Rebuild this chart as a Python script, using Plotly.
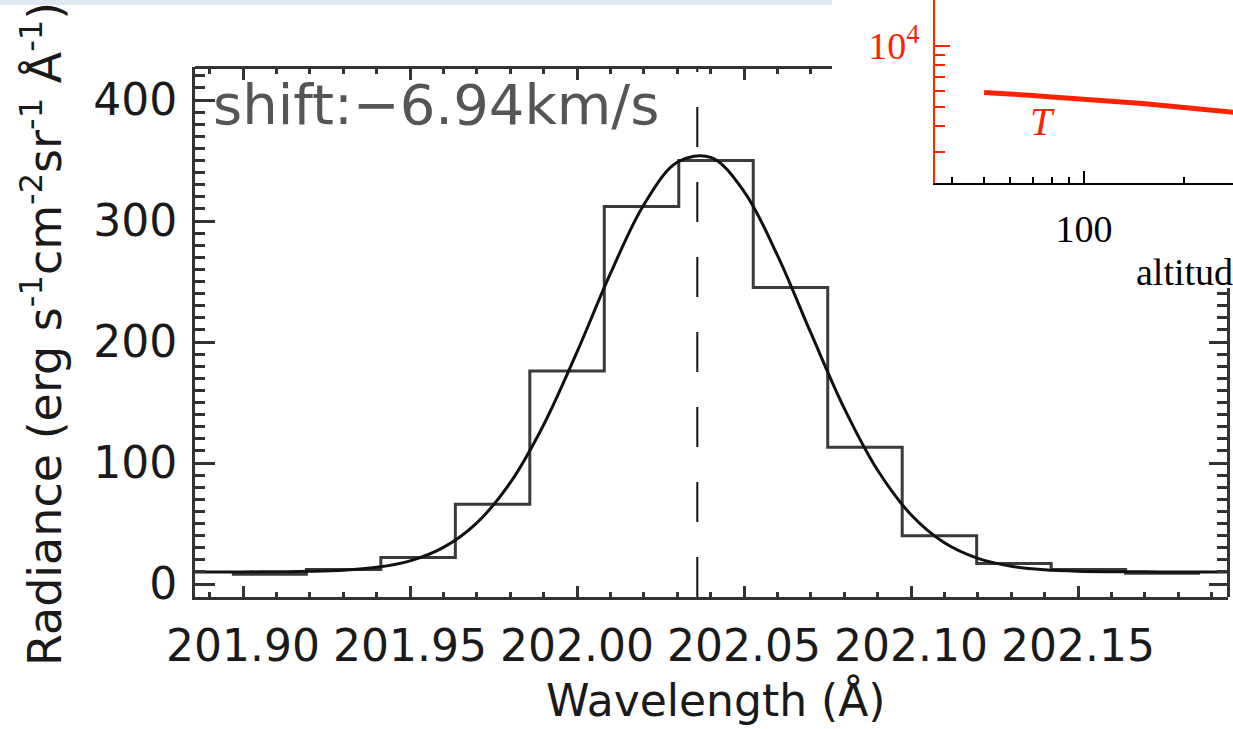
import numpy as np
import plotly.graph_objects as go

W, H = 1233, 729

# ---- main panel: EIS line profile --------------------------------------
wavelength = [201.9078, 201.9301, 201.9524, 201.9747, 201.9970, 202.0193, 202.0416,
              202.0639, 202.0862, 202.1085, 202.1308, 202.1531, 202.1754]
radiance = [8, 12, 22, 66, 176, 312, 350, 245, 113, 40, 17, 12, 9]

fit_wavelength = [201.88, 201.89, 201.90, 201.91, 201.92, 201.93, 201.94, 201.95,
                  201.96, 201.97, 201.98, 201.99, 202.00, 202.01, 202.02, 202.03,
                  202.04, 202.05, 202.06, 202.07, 202.08, 202.09, 202.10, 202.11,
                  202.12, 202.13, 202.14, 202.15, 202.16, 202.17, 202.18, 202.19,
                  202.20]
fit_radiance = [10.0, 10.0, 10.0, 10.2, 10.5, 11.4, 13.8, 19.2, 30.3, 50.6, 83.8,
                131.7, 191.9, 256.7, 313.5, 348.6, 352.6, 324.4, 271.6, 207.5, 145.2,
                94.0, 57.3, 34.1, 21.2, 14.7, 11.8, 10.6, 10.2, 10.1, 10.0, 10.0, 10.0]

line_centre = 202.036
shift_text = "shift:\u22126.94km/s"

x_range = [201.8856, 202.1949]
y_range = [-10.7, 427.3]

# ---- inset: temperature vs altitude -------------------------------------
altitude_km = [50, 60, 70, 80, 100, 120, 150, 200, 250, 280, 320]
temperature_K = [5880, 5800, 5690, 5590, 5460, 5340, 5190, 4960, 4800, 4710, 4600]

RED = "#ff2200"
INK = "#1a1a1a"
AX = "#333333"

# main plot area in pixels
px_left, px_right, px_top, px_bottom = 195, 1228, 67, 597
# where the inset box begins (main frame stops here)
cut_x, cut_y = 832, 288

xd = [px_left / W, px_right / W]
yd = [(H - px_bottom) / H, (H - px_top) / H]
x_per_px = (x_range[1] - x_range[0]) / (px_right - px_left)
y_per_px = (y_range[1] - y_range[0]) / (px_bottom - px_top)

# histogram outline (psym=10 style): steps centred on each sample
wl = np.array(wavelength)
edges = np.concatenate([[wl[0] - (wl[1] - wl[0]) / 2],
                        (wl[:-1] + wl[1:]) / 2,
                        [wl[-1] + (wl[-1] - wl[-2]) / 2]])
step_x = np.repeat(edges, 2)[1:-1]
step_y = np.repeat(np.array(radiance, dtype=float), 2)

fig = go.Figure()
fig.add_trace(go.Scatter(x=step_x, y=step_y, mode="lines",
                         line=dict(color="#3a3a3a", width=3), hoverinfo="skip"))
fig.add_trace(go.Scatter(x=fit_wavelength, y=fit_radiance, mode="lines",
                         line=dict(color="#111111", width=3, shape="spline", smoothing=1.0),
                         hoverinfo="skip"))
fig.add_trace(go.Scatter(x=[line_centre, line_centre], y=[y_range[0], y_range[1]],
                         mode="lines", line=dict(color="#111111", width=2, dash="40px,35px"),
                         hoverinfo="skip"))
# carriers for the partial top / right frame axes
fig.add_trace(go.Scatter(x=[x_range[0]], y=[0], xaxis="x3", yaxis="y", mode="lines",
                         hoverinfo="skip"))
fig.add_trace(go.Scatter(x=[x_range[0]], y=[0], xaxis="x", yaxis="y3", mode="lines",
                         hoverinfo="skip"))
# inset temperature curve
fig.add_trace(go.Scatter(x=altitude_km, y=temperature_K, xaxis="x2", yaxis="y2",
                         mode="lines", line=dict(color=RED, width=5), hoverinfo="skip"))

tickfont = dict(family="DejaVu Sans", size=44, color=INK)
common_x = dict(showline=True, linecolor=AX, linewidth=3, ticks="inside", tickcolor=AX,
                tickwidth=2.5, tick0=201.9, dtick=0.05, showgrid=False, zeroline=False,
                automargin=False,
                minor=dict(ticks="inside", tick0=201.9, dtick=0.01, ticklen=5,
                           tickwidth=2.5, tickcolor=AX, showgrid=False))
common_y = dict(showline=True, linecolor=AX, linewidth=3, ticks="inside", tickcolor=AX,
                tickwidth=2.5, tick0=0, dtick=100, showgrid=False, zeroline=False,
                automargin=False,
                minor=dict(ticks="inside", tick0=0, dtick=10, ticklen=10,
                           tickwidth=2.5, tickcolor=AX, showgrid=False))

x3_dom = [xd[0], cut_x / W]
x3_range = [x_range[0], x_range[0] + (cut_x - px_left) * x_per_px]
y3_dom = [yd[0], (H - cut_y) / H]
y3_range = [y_range[0], y_range[0] + (px_bottom - cut_y) * y_per_px]

fig.update_layout(
    width=W, height=H, margin=dict(l=0, r=0, t=0, b=0, autoexpand=False),
    paper_bgcolor="white", plot_bgcolor="rgba(0,0,0,0)", showlegend=False,
    xaxis=dict(domain=xd, range=x_range, anchor="y", tickformat=".2f", ticklen=11,
               tickfont=tickfont, ticklabelstandoff=8, **common_x),
    yaxis=dict(domain=yd, range=y_range, anchor="x", ticklen=20,
               tickfont=tickfont, ticklabelstandoff=6, **common_y),
    xaxis3=dict(domain=x3_dom, range=x3_range, anchor="free", position=yd[1], side="top",
                ticklen=11, showticklabels=False, **common_x),
    yaxis3=dict(domain=y3_dom, range=y3_range, anchor="free", position=xd[1], side="right",
                ticklen=18, showticklabels=False, **common_y),
    xaxis2=dict(type="log", domain=[935 / W, 1.0], range=[1.5512, 2.4488], anchor="y2",
                showline=True, linecolor="black", linewidth=1.5, ticks="inside",
                tickcolor="black", tickwidth=1.5, ticklen=12, tickvals=[100],
                ticktext=["100"], showgrid=False, zeroline=False, ticklabelstandoff=12,
                automargin=False,
                tickfont=dict(family="Liberation Serif", size=38, color="black"),
                minor=dict(ticks="inside", tickvals=[40, 50, 60, 70, 80, 90, 200],
                           ticklen=6, tickwidth=1.5, tickcolor="black", showgrid=False)),
    yaxis2=dict(type="log", domain=[(H - 183) / H, 1.0], range=[3.3236, 4.2251], anchor="x2",
                showline=True, linecolor=RED, linewidth=1.5, ticks="inside",
                tickcolor=RED, tickwidth=1.5, ticklen=15, tickvals=[10000],
                ticktext=["10<sup>4</sup>"], showgrid=False, zeroline=False,
                ticklabelstandoff=6, automargin=False,
                tickfont=dict(family="Liberation Serif", size=38, color=RED),
                minor=dict(ticks="inside",
                           tickvals=[3000, 4000, 5000, 6000, 7000, 8000, 9000],
                           ticklen=10, tickwidth=1.5, tickcolor=RED, showgrid=False)),
)

# thin pale band along the top edge, left of the inset
fig.add_shape(type="rect", xref="paper", yref="paper", x0=0, x1=cut_x / W,
              y0=(H - 5) / H, y1=1.0, line=dict(width=0), fillcolor="#dfe9f4", layer="below")

fig.add_annotation(text=shift_text, xref="paper", yref="paper", x=211 / W, y=(H - 104) / H,
                   xanchor="left", yanchor="middle", showarrow=False,
                   font=dict(family="DejaVu Sans", size=56, color="#555555"))
fig.add_annotation(text="Wavelength (\u00c5)", xref="paper", yref="paper",
                   x=715 / W, y=(H - 700) / H, xanchor="center", yanchor="middle",
                   showarrow=False, font=dict(family="DejaVu Sans", size=44, color=INK))
fig.add_annotation(text="Radiance (erg s<sup>-1</sup>cm<sup>-2</sup>sr<sup>-1</sup> \u00c5<sup>-1</sup>)",
                   xref="paper", yref="paper", x=42 / W, y=(H - 334) / H, textangle=-90,
                   xanchor="center", yanchor="middle", showarrow=False,
                   font=dict(family="DejaVu Sans", size=46, color=INK))
fig.add_annotation(text="<i>T</i>", xref="x2", yref="y2", x=np.log10(75), y=np.log10(4210),
                   showarrow=False, font=dict(family="Liberation Serif", size=40, color=RED))
fig.add_annotation(text="altitude (km)", xref="paper", yref="paper", x=1134 / W,
                   y=(H - 272) / H, xanchor="left", yanchor="middle", showarrow=False,
                   font=dict(family="Liberation Serif", size=38, color="black"))

fig.write_html("out.html")
